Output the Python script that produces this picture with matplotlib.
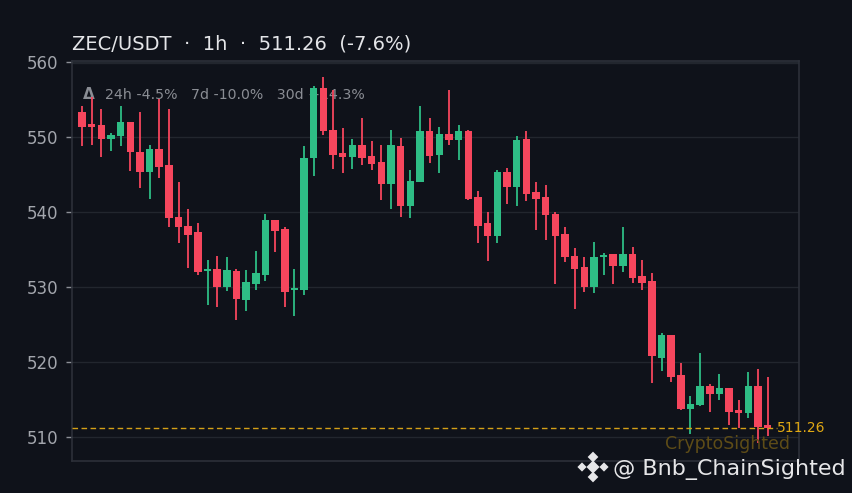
import matplotlib
matplotlib.use("Agg")
import matplotlib.pyplot as plt
import numpy as np

# hourly candles
opens = [553.4, 551.8, 551.6, 549.7, 550.1, 552.0, 548.0, 545.4, 548.4, 546.3,
         539.4, 538.2, 537.4, 532.2, 532.5, 530.0, 532.2, 528.3, 530.5, 531.7,
         539.0, 537.8, 529.6, 529.6, 547.2, 556.6, 551.0, 547.9, 547.4, 549.0,
         547.5, 546.7, 543.8, 548.8, 540.8, 544.0, 550.8, 547.6, 550.4, 549.6,
         550.8, 542.1, 538.6, 536.8, 545.4, 543.4, 549.8, 542.7, 542.0, 539.8,
         537.1, 534.2, 532.7, 530.0, 534.0, 534.4, 532.8, 534.4, 531.5, 530.8,
         520.6, 523.6, 518.3, 513.8, 514.3, 516.8, 515.8, 516.6, 513.6, 513.3,
         516.9, 511.6]
highs = [554.2, 555.3, 553.7, 550.6, 554.2, 552.0, 553.3, 549.0, 555.1, 553.8,
         544.1, 540.4, 538.6, 533.6, 534.2, 534.0, 532.4, 532.3, 534.8, 539.8,
         539.0, 538.1, 532.4, 548.8, 556.8, 558.0, 556.3, 551.2, 549.8, 552.6,
         549.5, 548.9, 551.0, 549.9, 545.6, 554.1, 552.5, 551.4, 556.3, 551.6,
         551.0, 542.9, 540.0, 545.6, 545.9, 550.1, 550.8, 544.1, 543.6, 540.1,
         538.0, 535.2, 534.1, 536.1, 534.6, 534.4, 538.1, 535.4, 533.7, 531.9,
         523.9, 523.6, 519.9, 515.5, 521.2, 517.1, 518.4, 516.6, 515.0, 518.7,
         519.1, 518.0]
lows = [548.8, 549.0, 547.4, 548.2, 548.8, 545.5, 543.3, 541.8, 544.6, 538.0,
        535.9, 532.6, 531.7, 527.6, 527.4, 529.5, 525.6, 526.9, 529.6, 530.8,
        534.7, 527.4, 526.2, 529.0, 544.8, 550.3, 545.8, 545.2, 545.8, 546.3,
        545.6, 541.6, 540.4, 539.4, 539.3, 544.0, 546.6, 545.2, 549.0, 547.0,
        541.6, 535.9, 533.5, 535.9, 541.1, 540.8, 541.5, 537.6, 536.3, 530.4,
        533.4, 527.1, 529.4, 529.2, 531.6, 530.4, 532.0, 530.6, 529.6, 517.3,
        518.9, 517.4, 513.6, 510.5, 514.2, 513.4, 515.0, 511.6, 511.3, 512.6,
        509.3, 510.2]
closes = [551.4, 551.4, 549.7, 550.3, 552.0, 548.0, 545.4, 548.4, 546.1, 539.2,
          538.0, 537.0, 532.0, 532.5, 530.0, 532.3, 528.4, 530.7, 531.9, 539.0,
          537.5, 529.4, 529.8, 547.3, 556.6, 550.8, 547.6, 547.4, 549.0, 547.3,
          546.5, 543.8, 549.0, 540.8, 544.2, 550.8, 547.5, 550.4, 549.6, 550.8,
          541.8, 538.2, 536.8, 545.4, 543.4, 549.6, 542.5, 541.8, 539.6, 536.9,
          534.0, 532.5, 530.0, 534.0, 534.3, 532.8, 534.4, 531.2, 530.6, 520.8,
          523.6, 518.1, 513.8, 514.4, 516.8, 515.8, 516.6, 513.4, 513.3, 516.9,
          511.4, 511.26]

yticks = [510, 520, 530, 540, 550, 560]
last_price = 511.26
title = "ZEC/USDT  \u00b7  1h  \u00b7  511.26  (-7.6%)"
stats = "24h -4.5%   7d -10.0%   30d +14.3%"

BG = "#0f121a"
UP = "#2ebd85"
DOWN = "#f6465d"
GRID = "#22262e"
SPINE = "#2c3039"

fig = plt.figure(figsize=(8.53, 4.93), dpi=100, facecolor=BG)
ax = fig.add_axes([0.0844, 0.0655, 0.8519, 0.8114], facecolor=BG)

o = np.array(opens)
h = np.array(highs)
l = np.array(lows)
c = np.array(closes)
x = np.arange(len(o))
cols = np.where(c >= o, UP, DOWN)

ax.vlines(x, l, h, colors=cols, linewidth=1.3, zorder=3)
bottom = np.minimum(o, c)
height = np.maximum(np.abs(c - o), 0.3)
ax.bar(x, height, bottom=bottom, width=0.77, color=cols, linewidth=0, zorder=4)

ax.set_xlim(-1.03, 74.2)
ax.set_ylim(506.9, 560.2)
ax.set_yticks(yticks)
ax.set_xticks([])
ax.tick_params(axis="y", colors="#8c8f96", labelcolor="#a3a6ad", labelsize=12,
               length=4, width=1, pad=6)
ax.grid(axis="y", color=GRID, linewidth=1, zorder=0)
for s in ax.spines.values():
    s.set_color(SPINE)
    s.set_linewidth(1.2)
# second faint line just under the top edge
ax.axhline(559.85, color=GRID, linewidth=1, zorder=0)

# last price line
ax.axhline(last_price, xmax=0.97, color="#d4a017", linewidth=1,
           linestyle=(0, (4, 2.5)), zorder=5)
fig.text(777 / 853, 1 - 428 / 493, "511.26", color="#e0a813", fontsize=10,
         va="center", ha="left")

# header texts
fig.text(72 / 853, 1 - 49 / 493, title, color="#e4e5e8", fontsize=14,
         ha="left", va="baseline")
ax.text(0.015, 0.905, "\u0394", transform=ax.transAxes, color="#8a8d94",
        fontsize=11, fontweight="bold", va="baseline", zorder=1)
ax.text(0.046, 0.905, stats, transform=ax.transAxes, color="#8a8d94",
        fontsize=10.2, va="baseline", zorder=1)

# watermarks
fig.text(728 / 853, 1 - 449 / 493, "CryptoSighted", color="#5e4c17",
         fontsize=12.5, ha="center", va="baseline")
fig.text(613 / 853, 1 - 475 / 493, "@ Bnb_ChainSighted", color="#e6e6e8",
         fontsize=16, ha="left", va="baseline")

# small binance-like logo
lx = [582, 593, 604, 593, 593]
ly = [467, 467, 467, 457, 477]
ls = [22, 45, 22, 30, 30]
logo = fig.add_axes([0, 0, 1, 1], facecolor="none")
logo.set_xlim(0, 853)
logo.set_ylim(493, 0)
logo.axis("off")
logo.scatter(lx, ly, s=ls, marker="D", color="#e6e6e8", linewidths=0)

fig.savefig("out.png", dpi=100, facecolor=BG)
